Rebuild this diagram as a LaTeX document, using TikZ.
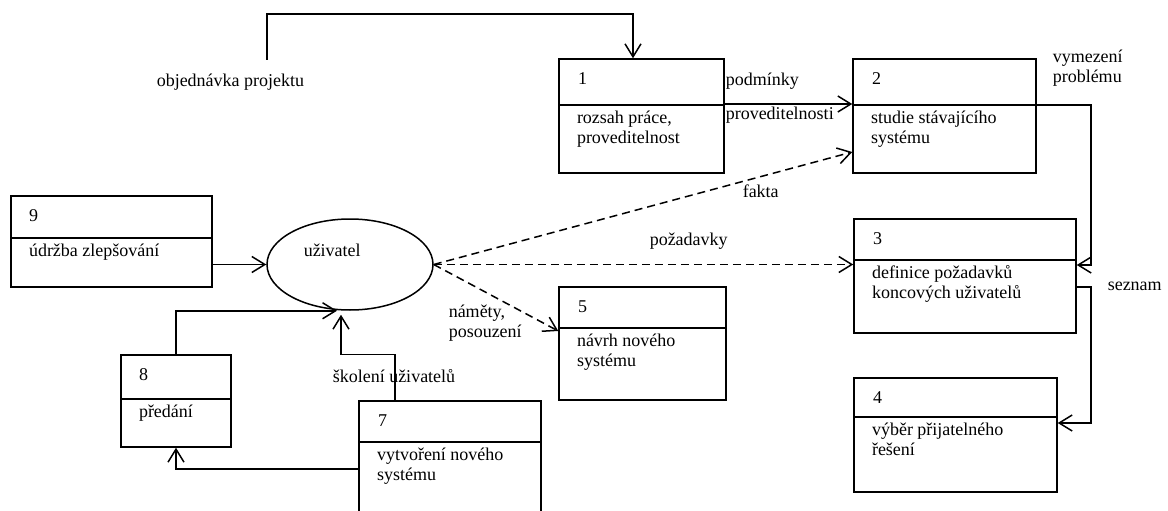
\documentclass[tikz,border=0pt]{standalone}
\usepackage{fontspec}
\setmainfont{Liberation Serif}
\usetikzlibrary{positioning, arrows.meta, shapes.geometric}

\begin{document}
\begin{tikzpicture}[
  x=1pt, y=-1pt, line width=1.5pt,
  procbox/.style={draw, rectangle, inner sep=0pt,
    path picture={\draw ([yshift=-#1]path picture bounding box.north west)
      -- ([yshift=-#1]path picture bounding box.north east);}},
  txt/.style={inner sep=0pt, font=\fontsize{18}{20}\selectfont,
    align=left, anchor=base west},
  arw/.style={-{Straight Barb[length=13pt,width=16pt]}},
  dsh/.style={arw, dash pattern=on 8pt off 5pt},
]
\useasboundingbox (0,0) rectangle (1168,511);
\clip (0,0) rectangle (1168,511);

% processes
\node[procbox=46pt, minimum width=165pt, minimum height=114pt] (p1) at (641.5,116) {};
\node[procbox=46pt, minimum width=183pt, minimum height=114pt] (p2) at (944.5,116) {};
\node[procbox=41pt, minimum width=222pt, minimum height=114pt] (p3) at (965,276) {};
\node[procbox=39pt, minimum width=203pt, minimum height=114pt] (p4) at (955.5,435) {};
\node[procbox=41pt, minimum width=167pt, minimum height=113pt] (p5) at (642.5,343.5) {};
\node[procbox=41pt, minimum width=182pt, minimum height=114pt] (p7) at (450,458) {};
\node[procbox=44pt, minimum width=110pt, minimum height=92pt] (p8) at (176,401) {};
\node[procbox=42pt, minimum width=201pt, minimum height=91pt] (p9) at (111.5,241.5) {};
\node[draw, ellipse, minimum width=166pt, minimum height=91pt, inner sep=0pt] (user) at (350,264.5) {};

% box texts (two-line texts sit on their last baseline)
\node[below right=26pt and 19pt of p1.north west, txt] (n1) {1};
\node[below right=85pt and 18pt of p1.north west, txt] (t1) {rozsah práce,\\proveditelnost};
\node[below right=26pt and 19pt of p2.north west, txt] (n2) {2};
\node[below right=85pt and 18pt of p2.north west, txt] (t2) {studie stávajícího\\systému};
\node[below right=26pt and 19pt of p3.north west, txt] (n3) {3};
\node[below right=80pt and 18pt of p3.north west, txt] (t3) {definice požadavků\\koncových uživatelů};
\node[below right=26pt and 19pt of p4.north west, txt] (n4) {4};
\node[below right=78pt and 18pt of p4.north west, txt] (t4) {výběr přijatelného\\řešení};
\node[below right=26pt and 19pt of p5.north west, txt] (n5) {5};
\node[below right=80pt and 18pt of p5.north west, txt] (t5) {návrh nového\\systému};
\node[below right=26pt and 19pt of p7.north west, txt] (n7) {7};
\node[below right=80pt and 18pt of p7.north west, txt] (t7) {vytvoření nového\\systému};
\node[below right=26pt and 18pt of p8.north west, txt] (n8) {8};
\node[below right=63pt and 18pt of p8.north west, txt] (t8) {předání};
\node[below right=26pt and 18pt of p9.north west, txt] (n9) {9};
\node[below right=61pt and 18pt of p9.north west, txt] (t9) {údržba zlepšování};
\node[txt] (userlbl) at (303,256) {uživatel};

% flow labels
\node[txt] (order) at (156,86) {objednávka projektu};
\node[txt] (podm) at (725,85) {podmínky};
\node[txt] (provl) at (725,119) {proveditelnosti};
\node[txt] (vymez) at (1052,82) {vymezení\\problému};
\node[txt] (fakta) at (742,197) {fakta};
\node[txt] (pozad) at (649,245) {požadavky};
\node[txt] (seznam) at (1107,290) {seznam};
\node[txt] (namety) at (448,337) {náměty,\\posouzení};
\node[txt] (skol) at (332,382) {školení uživatelů};

\coordinate (ordstart) at (267,60);
\coordinate (toproute) at (450,14);

% flows
\draw[arw] (ordstart) |- (toproute) -| ([xshift=-8.5pt]p1.north);
\draw[arw] ([yshift=12pt]p1.east) -- ([yshift=12pt]p2.west);
\draw[arw] ([yshift=11pt]p2.east) -- ++(54,0) |- ([yshift=11pt]p3.east);
\draw[arw] ([yshift=-11pt]p3.east) -- ++(14,0) |- ([yshift=12pt]p4.east);
\draw[dsh] (user.east) -- ([yshift=-36pt]p2.west);
\draw[dsh] (user.east) -- (p3.west |- user.east);
\draw[dsh] (user.east) -- ([yshift=12.5pt]p5.west);
\draw[arw] (p9.east |- user.west) -- (user.west);
\draw[arw] (p8.north) |- ([xshift=-13pt]user.south);
\draw[arw] ([xshift=-55pt]p7.north) -- ++(0,-46) -| ([xshift=-9pt,yshift=-4pt]user.south);
\draw[arw] ([yshift=-11pt]p7.west) -| (p8.south);
\end{tikzpicture}
\end{document}
